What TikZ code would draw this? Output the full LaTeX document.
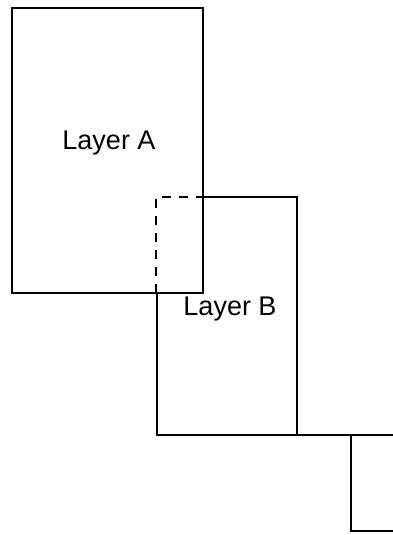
\documentclass[tikz,border=0pt]{standalone}
\usepackage{fontspec}
\setmainfont{Liberation Sans}
\tikzset{
  edge/.style={line width=2pt, line cap=rect},
  hidden/.style={line width=2pt, dash pattern=on 9pt off 8pt},
  lbl/.style={font=\fontsize{27}{31}\selectfont, inner sep=0pt}
}
\begin{document}
\begin{tikzpicture}[x=1pt,y=-1pt]
\useasboundingbox (0,0) rectangle (393,535);
% Layer A
\draw[edge] (12,8) rectangle (203,293);
\node[lbl] (la) at (109,143) {Layer A};
% Layer B (partly hidden)
\draw[hidden] (156,293) -- (156,197) -- (203,197);
\draw[edge] (203,197) -- (297,197) -- (297,435);
\draw[edge] (157,293) -- (157,435) -- (393,435);
\node[lbl] (lb) at (230,309) {Layer B};
% third layer
\draw[edge] (351,435) -- (351,531) -- (393,531);
\end{tikzpicture}
\end{document}
